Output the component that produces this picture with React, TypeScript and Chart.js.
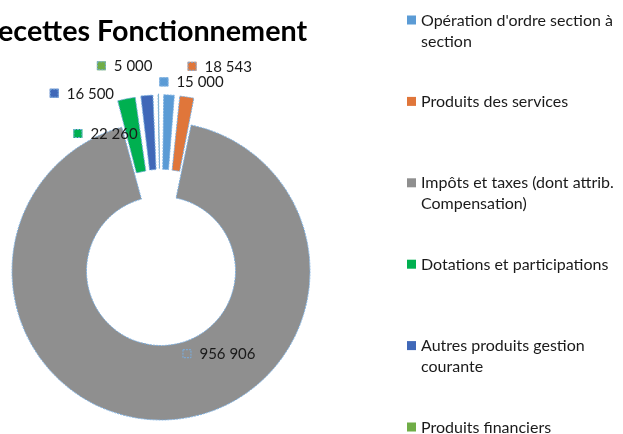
import React, { useEffect, useRef } from "react";
import { Chart, registerables } from "chart.js";
Chart.register(...registerables);

const chartTitle = "Recettes Fonctionnement";
const categories = [
  "Opération d'ordre section à section",
  "Produits des services",
  "Impôts et taxes (dont attrib. Compensation)",
  "Dotations et participations",
  "Autres produits gestion courante",
  "Produits financiers",
];
const values = [15000, 18543, 956906, 22260, 16500, 5000];
const colors = ["#5b9bd5", "#e0763a", "#8f8f8f", "#00b050", "#4068b8", "#70ad47"];
const explode = [57, 57, 0, 57, 57, 57];
const labelNudge = [[-8, -49], [6, -66], [18, -29], [-60, 0], [-100, -38], [-62, -65]];

const FONT = "Lato, 'Open Sans', sans-serif";
const EDGE = "#7aaee0";
const fmt = (v: number) => String(v).replace(/\B(?=(\d{3})+(?!\d))/g, " ");

function wrap(ctx: CanvasRenderingContext2D, text: string, maxW: number): string[] {
  const words = text.split(" ");
  const lines: string[] = [];
  let cur = "";
  for (const w of words) {
    const t = cur ? cur + " " + w : w;
    if (ctx.measureText(t).width > maxW && cur) {
      lines.push(cur);
      cur = w;
    } else cur = t;
  }
  if (cur) lines.push(cur);
  return lines;
}

const decorPlugin = {
  id: "decor",
  afterDraw(chart: any) {
    const ctx: CanvasRenderingContext2D = chart.ctx;
    ctx.save();
    // title
    ctx.font = `bold 28.7px ${FONT}`;
    ctx.fillStyle = "#000";
    ctx.textAlign = "left";
    ctx.textBaseline = "alphabetic";
    const rW = ctx.measureText("R").width;
    ctx.fillText(chartTitle, -rW - 1, 41);

    // data labels
    const meta = chart.getDatasetMeta(0);
    ctx.font = `15px ${FONT}`;
    ctx.textBaseline = "middle";
    meta.data.forEach((el: any, i: number) => {
      const p = el.tooltipPosition();
      const x = p.x + labelNudge[i][0];
      const y = p.y + labelNudge[i][1];
      ctx.fillStyle = colors[i];
      ctx.fillRect(x, y - 4.5, 9, 9);
      ctx.strokeStyle = EDGE;
      ctx.lineWidth = 1;
      ctx.setLineDash([2, 1]);
      ctx.strokeRect(x + 0.5, y - 4, 8, 8);
      ctx.setLineDash([]);
      ctx.fillStyle = "#1a1a1a";
      ctx.fillText(fmt(values[i]), x + 17, y + 0.5);
    });

    // legend
    ctx.font = `16px ${FONT}`;
    const x0 = 407;
    const step = 81.4;
    categories.forEach((c, i) => {
      const y = 20 + i * step;
      ctx.fillStyle = colors[i];
      ctx.fillRect(x0, y - 4.5, 9, 9);
      ctx.fillStyle = "#1a1a1a";
      const lines = wrap(ctx, c, 200);
      lines.forEach((ln, j) => ctx.fillText(ln, x0 + 14, y + 0.5 + j * 21));
    });
    ctx.restore();
  },
};

export default function App() {
  const ref = useRef<HTMLCanvasElement | null>(null);
  useEffect(() => {
    if (!ref.current) return;
    const chart = new Chart(ref.current, {
      type: "doughnut",
      data: {
        labels: categories,
        datasets: [
          {
            data: values,
            backgroundColor: colors,
            borderColor: EDGE,
            borderWidth: 1,
            borderDash: [2, 1],
            offset: explode,
            radius: 149,
            cutout: "50%",
          } as any,
        ],
      },
      options: {
        responsive: false,
        animation: false,
        layout: { padding: { left: 0, right: 301, top: 108, bottom: 0 } },
        plugins: { legend: { display: false }, tooltip: { enabled: false }, title: { display: false } },
      },
      plugins: [decorPlugin],
    });
    return () => chart.destroy();
  }, []);
  return (
    <div style={{ position: "absolute", left: 0, top: 0, width: 623, height: 434, background: "#fff" }}>
      <canvas ref={ref} width={623} height={434} />
    </div>
  );
}
